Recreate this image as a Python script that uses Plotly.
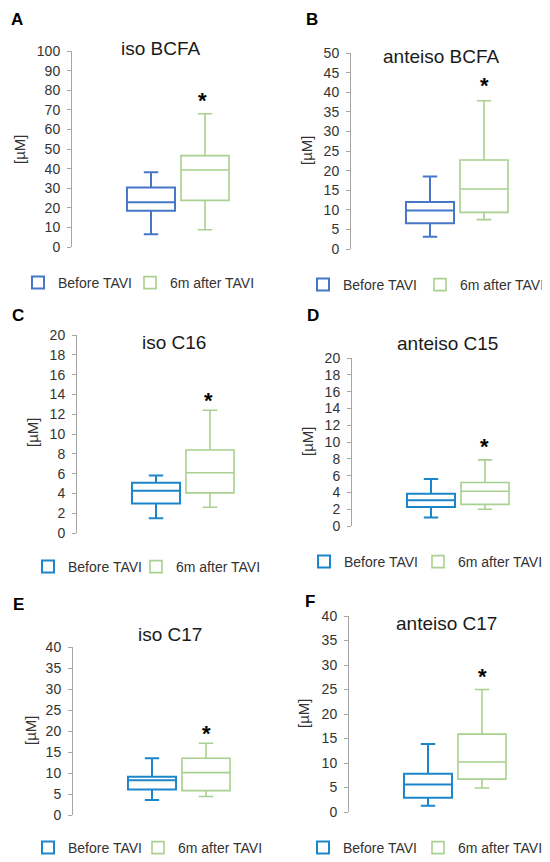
import plotly.graph_objects as go

# the page body keeps its default 8px margin, so the figure is drawn 8px in
W, H, OFF = 542, 854, 8

groups = ["Before TAVI", "6m after TAVI"]
letters = ["A", "B", "C", "D", "E", "F"]
titles = ["iso BCFA", "anteiso BCFA", "iso C16", "anteiso C15", "iso C17", "anteiso C17"]

# box statistics per panel, [before, after]  (in µM)
lower = [[6.5, 8.8], [3.1, 7.5], [1.5, 2.6], [1.0, 2.0], [3.6, 4.4], [1.3, 4.9]]
q1 = [[18.5, 23.8], [6.6, 9.35], [2.97, 4.05], [2.27, 2.58], [6.1, 5.8], [2.9, 6.7]]
median = [[22.8, 39.3], [9.8, 15.3], [4.26, 6.08], [3.06, 4.14], [8.3, 10.1], [5.6, 10.2]]
q3 = [[30.3, 46.6], [12.0, 22.7], [5.07, 8.38], [3.85, 5.17], [9.1, 13.5], [7.8, 15.9]]
upper = [[38.1, 68.0], [18.5, 37.8], [5.8, 12.4], [5.6, 7.87], [13.5, 17.1], [13.9, 25.0]]
y_max = [100, 50, 20, 20, 40, 40]
y_step = [10, 5, 2, 2, 5, 5]

# panel geometry in page pixels of the 550x862 window
axis_x = [72, 351, 77, 352, 73, 349]
axis_top = [51, 53, 335, 358, 647, 616]
axis_bot = [247, 249, 533, 526, 815, 812]
title_pos = [(161, 49), (441, 57), (174, 342), (447, 343), (170, 634), (446, 623)]
letter_pos = [(17, 19), (312, 19), (18, 315), (313, 315), (18, 604), (310, 601)]
star_pos = [(202, 96), (484, 82), (209, 396), (484, 442), (206, 729), (482, 672)]
ylab_pos = [(20, 150), (307, 151), (32, 433), (307, 442), (30, 731), (303, 714)]
# left edge of each one-item legend [before, after], and the row centre
legend_x = [(18, 130), (303, 420), (28, 136), (304, 418), (28, 138), (303, 418)]
legend_y = [283, 285, 567, 562, 848, 848]

blue_ab = "#4677C7"
blue_cf = "#1C86CA"
green = "#A9D08E"


def px(x):
    return (x - OFF) / W


def py(y):
    return 1 - (y - OFF) / H


def note(text, x, y, size, color="#1a1a1a", angle=0):
    return dict(text=text, x=px(x), y=py(y), xref="paper", yref="paper",
                xanchor="center", yanchor="middle", showarrow=False,
                textangle=angle, font=dict(size=size, color=color))


fig = go.Figure()
annotations = []
layout = {}

for i in range(6):
    n = "" if i == 0 else str(i + 1)
    blue = blue_ab if i < 2 else blue_cf
    for j, g in enumerate(groups):
        k = 2 * i + j
        leg = "legend" if k == 0 else "legend" + str(k + 1)
        fig.add_trace(go.Box(
            x=[g], q1=[q1[i][j]], median=[median[i][j]], q3=[q3[i][j]],
            lowerfence=[lower[i][j]], upperfence=[upper[i][j]],
            name=g, boxpoints=False, width=0.89, whiskerwidth=0.3,
            line=dict(color=blue if j == 0 else green, width=2 if j == 0 else 1.6),
            fillcolor="white", xaxis="x" + n, yaxis="y" + n, legend=leg,
            showlegend=True,
        ))
        layout[leg] = dict(
            x=px(legend_x[i][j]), y=py(legend_y[i]),
            xanchor="left", yanchor="middle",
            font=dict(size=14, color="#333333"), bgcolor="rgba(0,0,0,0)",
        )

    layout["xaxis" + n] = dict(
        domain=[px(axis_x[i]), px(axis_x[i] + 170)], anchor="y" + n,
        type="category", categoryorder="array", categoryarray=groups,
        range=[-79 / 54, 91 / 54], visible=False,
    )
    layout["yaxis" + n] = dict(
        domain=[py(axis_bot[i]), py(axis_top[i])], anchor="x" + n,
        range=[0, y_max[i]], dtick=y_step[i], tick0=0,
        showline=True, linecolor="#A6A6A6", linewidth=1,
        ticks="outside", ticklen=4, tickcolor="#A6A6A6",
        ticklabelstandoff=4,
        showgrid=False, zeroline=False,
        tickfont=dict(size=14, color="#333333"),
    )

    annotations.append(note(titles[i], *title_pos[i], 19))
    annotations.append(note("<b>" + letters[i] + "</b>", *letter_pos[i], 17, "black"))
    annotations.append(note("<b>*</b>", star_pos[i][0], star_pos[i][1] + 4, 22, "black"))
    annotations.append(note("[µM]", *ylab_pos[i], 15, "#333333", -90))

fig.update_layout(
    width=W, height=H,
    margin=dict(l=0, r=0, t=0, b=0, autoexpand=False),
    paper_bgcolor="white", plot_bgcolor="white",
    font=dict(family="Liberation Sans, Arial, sans-serif"),
    boxmode="overlay", showlegend=True,
    annotations=annotations,
    **layout,
)

fig.write_html("out.html")
